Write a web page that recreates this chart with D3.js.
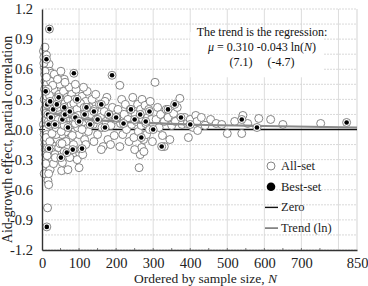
<!DOCTYPE html>
<html>
<head>
<meta charset="utf-8">
<script src="https://cdn.jsdelivr.net/npm/d3@7"></script>
<style>
  body { margin: 0; background: #fff; }
  svg { display: block; font-family: "Liberation Serif", "DejaVu Serif", serif; }
</style>
</head>
<body>
<div id="chart"></div>
<script>
// all-set estimates: sample size N and partial correlation
let allN = [4, 5, 6, 7, 8, 9, 10, 11, 12, 13, 14, 15, 4, 5, 6, 7, 8, 9, 10, 11, 12, 13, 14, 15, 16, 17, 18, 19, 20, 21,
    22, 23, 24, 25, 26, 27, 28, 29, 30, 16, 18, 15, 17, 20, 22, 24, 26, 28, 10, 12, 8, 6, 7, 9, 11, 13, 19, 21, 23, 25,
    32, 34, 36, 38, 40, 42, 44, 46, 48, 50, 52, 54, 56, 58, 60, 62, 64, 66, 68, 70, 72, 74, 76, 78, 31, 35, 45, 53, 55, 60,
    65, 70, 75, 33, 42, 51, 62, 80, 38, 47, 57, 67,
    82, 85, 88, 90, 92, 95, 98, 100, 102, 105, 108, 110, 112, 115, 118, 120, 122, 125, 128, 85, 95, 100, 105, 110, 118, 90,
    112, 84, 96, 126,
    132, 135, 138, 142, 146, 150, 155, 158, 162, 165, 168, 172, 175, 178, 182, 186, 190, 195, 198, 140, 160, 185, 145, 170,
    202, 205, 210, 210, 212, 215, 218, 222, 225, 228, 232, 235, 238, 242, 245, 248, 252, 255, 258, 260, 262, 264, 266, 268,
    269, 270, 272, 274, 276, 278, 280, 282, 285, 288, 290, 292, 295, 298, 265, 275, 250,
    305, 308, 312, 316, 320, 325, 330, 335, 340, 345, 350, 355, 360, 365, 372, 378, 385, 392, 400, 408, 415, 418, 420, 330, 395,
    430, 440, 455, 470, 485, 500, 520, 542, 539, 555, 585, 617, 752, 650,
    // extra density in the small-sample cloud
    5, 7, 9, 11, 13, 15, 17, 19, 21, 23, 25, 27, 29, 31, 33, 35, 37, 39, 41, 43, 45, 47, 49, 6, 10, 14, 18, 22, 26, 30,
    34, 38, 42, 46, 50, 54, 58, 62, 66, 70, 74, 78, 82, 86, 90, 94, 98, 104, 108, 114, 8, 12, 16, 20, 24, 28, 36, 44, 52, 60];
let allV = [0.78, 0.72, 0.62, 0.55, 0.48, 0.42, 0.35, 0.30, 0.25, 0.20, 0.15, 0.10, 0.05, 0.00, -0.05, -0.10, -0.15, -0.20, -0.25, -0.30,
    -0.12, 0.45, 0.38, 0.60, 0.52, 0.30, 0.22, 0.12, 0.05, -0.02, -0.08, 0.18, 0.28, 0.36, 0.42, 0.50, 0.08, -0.15, -0.20, -0.51,
    -0.55, -0.78, -0.36, -0.30, -0.40, -0.22, -0.10, -0.30, 0.68, 0.74, 0.82, 0.30, 0.20, 0.10, 0.00, -0.05, 0.65, 0.58, 0.48, 0.56,
    0.40, 0.30, 0.20, 0.10, 0.00, -0.10, 0.25, 0.35, 0.45, 0.15, 0.05, -0.05, 0.28, 0.38, 0.50, 0.18, 0.08, -0.02, 0.32, 0.22,
    0.12, 0.42, 0.02, -0.08, -0.34, -0.25, -0.18, -0.41, -0.33, -0.22, -0.12, -0.40, -0.28, 0.55, 0.50, 0.58, 0.47, 0.35, -0.05, 0.08,
    0.10, 0.20,
    0.20, 0.10, 0.30, 0.00, 0.40, 0.15, 0.25, -0.05, -0.24, 0.05, 0.33, 0.18, 0.08, -0.10, 0.28, 0.12, 0.38, -0.02, 0.22, -0.15,
    -0.30, -0.38, -0.20, -0.25, -0.15, 0.45, 0.42, 0.05, 0.02, 0.10,
    0.15, 0.30, 0.05, 0.20, 0.10, -0.05, 0.25, 0.12, 0.02, -0.17, 0.18, 0.08, 0.32, -0.10, 0.14, 0.04, 0.22, -0.06, 0.10, -0.12,
    -0.20, -0.15, 0.35, 0.28,
    0.12, 0.20, 0.44, -0.17, 0.06, 0.30, -0.05, 0.15, 0.25, 0.00, 0.10, -0.12, 0.20, 0.05, 0.32, -0.08, 0.15, 0.08, 0.25, -0.02,
    -0.38, 0.12, 0.20, 0.04, -0.18, 0.30, 0.10, -0.10, 0.16, 0.24, 0.06, -0.05, 0.12, 0.20, 0.00, 0.28, 0.10, -0.12, -0.25, -0.22,
    -0.20,
    0.47, 0.10, 0.22, 0.02, 0.15, -0.06, 0.08, 0.20, 0.12, -0.10, 0.04, 0.16, 0.08, 0.22, 0.31, 0.05, 0.12, 0.06, 0.10, 0.02,
    0.14, 0.08, -0.01, -0.17, -0.08,
    0.12, 0.04, 0.10, 0.06, 0.05, -0.04, 0.08, 0.14, -0.04, 0.06, 0.11, 0.10, 0.06, 0.05,
    0.66, 0.40, 0.16, -0.08, 0.33, -0.18, 0.08, 0.27, -0.12, 0.14, 0.24, -0.04, 0.44, 0.18, 0.06, 0.24, 0.14, 0.30, 0.04, 0.20,
    0.12, 0.26, -0.14, -0.44, -0.34, -0.26, -0.44, 0.04, 0.16, 0.30, 0.12, 0.02, 0.22, 0.06, 0.28, -0.14, 0.14, 0.26, 0.04, 0.30,
    0.16, 0.24, -0.06, 0.26, 0.06, 0.20, 0.14, 0.26, 0.00, 0.22, 0.58, 0.52, 0.40, 0.34, 0.20, 0.22, -0.28, 0.10, -0.02, 0.04];

// best-set estimates
let bestN = [20, 13, 12, 10, 14, 16, 18, 22, 24, 19, 30, 35, 40, 45, 51, 55, 60, 62, 67, 70, 75, 83, 86, 90, 95, 100, 108,
    115, 120, 130, 140, 150, 160, 170, 180, 189, 200, 220, 240, 250, 265, 280, 290, 323, 340, 358, 375, 400, 539, 580, 822, 268, 300];
let bestV = [1.00, -0.97, 0.70, 0.38, 0.25, 0.15, 0.05, 0.28, 0.12, -0.19, 0.20, 0.05, 0.25, 0.32, -0.28, 0.10, 0.22, 0.15, -0.23,
    0.02, 0.18, -0.20, 0.56, 0.12, 0.30, 0.08, -0.19, 0.15, 0.22, 0.05, 0.18, 0.10, 0.25, 0.02, 0.15, 0.54, 0.12, 0.06, 0.20,
    0.10, 0.15, 0.08, 0.18, -0.17, 0.20, 0.25, 0.12, 0.05, 0.10, 0.02, 0.07, -0.08, 0.00];

// trend line
let trendN = [3, 10, 20, 50, 100, 200, 400, 600, 850];
let trendV = [0.26, 0.21, 0.18, 0.14, 0.11, 0.08, 0.05, 0.035, 0.02];

let xTicks = [0, 100, 200, 300, 400, 500, 600, 700, 850];
let yTicks = [-1.2, -0.9, -0.6, -0.3, 0.0, 0.3, 0.6, 0.9, 1.2];
let legendItems = ["All-set", "Best-set", "Zero", "Trend (ln)"];
let noteLines = ["The trend is the regression:", "= 0.310 -0.043 ln(", "(7.1)     (-4.7)"];

let W = 368, H = 286;
let margin = { "top": 9, "bottom": 36, "right": 11, "left": 42 };

let svg = d3.select('#chart').append('svg')
    .attr('width', W)
    .attr('height', H);

let xScale = d3.scaleLinear().domain([0, 850]).range([margin.left, W - margin.right]);
let yScale = d3.scaleLinear().domain([-1.2, 1.2]).range([H - margin.bottom, margin.top]);

// grid
let grid = svg.append('g');
let hGrid = d3.range(-1.2, 1.2001, 0.15);
grid.selectAll('.hg').data(hGrid).enter().append('line')
    .attr('x1', xScale(0)).attr('x2', xScale(850))
    .attr('y1', d => yScale(d)).attr('y2', d => yScale(d))
    .attr('stroke', '#cfcfcf').attr('stroke-width', 0.8)
    .attr('stroke-dasharray', '2,1');
grid.selectAll('.vg').data(d3.range(100, 801, 100)).enter().append('line')
    .attr('x1', d => xScale(d)).attr('x2', d => xScale(d))
    .attr('y1', yScale(-1.2)).attr('y2', yScale(1.2))
    .attr('stroke', '#d4d4d4').attr('stroke-width', 0.8);
grid.append('line')
    .attr('x1', xScale(850)).attr('x2', xScale(850))
    .attr('y1', yScale(-1.2)).attr('y2', yScale(1.2))
    .attr('stroke', '#c8c8c8').attr('stroke-width', 0.8);

// annotation background (hides grid behind text)
svg.append('rect')
    .attr('x', xScale(400)).attr('y', yScale(0.97))
    .attr('width', xScale(760) - xScale(400)).attr('height', yScale(0.52) - yScale(0.97))
    .attr('fill', '#fff');

// zero line
svg.append('line')
    .attr('x1', xScale(0)).attr('x2', xScale(850))
    .attr('y1', yScale(0)).attr('y2', yScale(0))
    .attr('stroke', '#111').attr('stroke-width', 1.6);

// all-set points
svg.append('g').selectAll('circle')
    .data(allN.map((n, i) => [n, allV[i]]))
    .enter().append('circle')
    .attr('cx', d => xScale(d[0]))
    .attr('cy', d => yScale(d[1]))
    .attr('r', 4)
    .attr('fill', '#fff')
    .attr('stroke', '#777')
    .attr('stroke-width', 0.9);

// trend line
let line = d3.line()
    .x(d => xScale(d[0]))
    .y(d => yScale(d[1]))
    .curve(d3.curveMonotoneX);
svg.append('path')
    .attr('d', line(trendN.map((n, i) => [n, trendV[i]])))
    .attr('fill', 'none')
    .attr('stroke', '#8a8a8a')
    .attr('stroke-width', 2.2);

// best-set points
let best = svg.append('g').selectAll('g')
    .data(bestN.map((n, i) => [n, bestV[i]]))
    .enter().append('g')
    .attr('transform', d => 'translate(' + xScale(d[0]) + ',' + yScale(d[1]) + ')');
best.append('circle').attr('r', 4).attr('fill', '#fff').attr('stroke', '#777').attr('stroke-width', 0.9);
best.append('circle').attr('r', 2.3).attr('fill', '#000');

// axes
let xAxis = svg.append('g')
    .attr('transform', 'translate(0,' + yScale(-1.2) + ')')
    .call(d3.axisBottom(xScale).tickValues(xTicks).tickSize(0).tickPadding(8).tickFormat(d3.format('d')));
let yAxis = svg.append('g')
    .attr('transform', 'translate(' + xScale(0) + ',0)')
    .call(d3.axisLeft(yScale).tickValues(yTicks).tickSize(0).tickPadding(9).tickFormat(d3.format('.1f')));
[xAxis, yAxis].forEach(a => {
    a.select('.domain').attr('stroke', '#333').attr('stroke-width', 1.4);
    a.selectAll('text').attr('font-family', '"Liberation Serif", serif').attr('font-size', 14.5).attr('fill', '#222');
});
yAxis.selectAll('text').text(d => d3.format('.1f')(d).replace('−', '-'));

// minor ticks on x axis
svg.append('g').selectAll('line')
    .data(d3.range(50, 800, 50))
    .enter().append('line')
    .attr('x1', d => xScale(d)).attr('x2', d => xScale(d))
    .attr('y1', yScale(-1.2)).attr('y2', yScale(-1.2) - 2)
    .attr('stroke', '#555').attr('stroke-width', 0.8);
// small tick at zero on y axis
svg.append('line')
    .attr('x1', xScale(0) - 3).attr('x2', xScale(0) + 3)
    .attr('y1', yScale(0)).attr('y2', yScale(0))
    .attr('stroke', '#333').attr('stroke-width', 1);

// axis titles
svg.append('text')
    .attr('transform', 'translate(12,' + (yScale(0) + 10) + ') rotate(-90)')
    .attr('text-anchor', 'middle')
    .attr('font-size', 14)
    .attr('fill', '#222')
    .text('Aid-growth effect, partial correlation');
let xt = svg.append('text')
    .attr('x', (xScale(0) + xScale(850)) / 2 + 6)
    .attr('y', 283)
    .attr('text-anchor', 'middle')
    .attr('font-size', 13.5)
    .attr('fill', '#222');
xt.append('tspan').text('Ordered by sample size, ');
xt.append('tspan').attr('font-style', 'italic').text('N');

// annotation
let noteX = 262;
svg.append('text').attr('x', noteX).attr('y', 36).attr('text-anchor', 'middle')
    .attr('font-size', 12).attr('fill', '#111').text(noteLines[0]);
let eq = svg.append('text').attr('x', noteX).attr('y', 51).attr('text-anchor', 'middle')
    .attr('font-size', 12).attr('fill', '#111');
eq.append('tspan').attr('font-style', 'italic').text('\u03bc');
eq.append('tspan').text(' ' + noteLines[1]);
eq.append('tspan').attr('font-style', 'italic').text('N');
eq.append('tspan').text(')');
svg.append('text').attr('x', noteX).attr('y', 66).attr('text-anchor', 'middle')
    .attr('font-size', 12).attr('fill', '#111').attr('xml:space', 'preserve')
    .style('white-space', 'pre').text(noteLines[2]);

// legend
let legend = svg.append('g').attr('transform', 'translate(271,166)');
let lg = legend.selectAll('g').data(legendItems).enter().append('g')
    .attr('transform', (d, i) => 'translate(0,' + (i * 20.7) + ')');
lg.append('text').attr('x', 10).attr('y', 4).attr('font-size', 12.5).attr('fill', '#222').text(d => d);
lg.filter((d, i) => i === 0).append('circle').attr('r', 4).attr('fill', '#fff').attr('stroke', '#777').attr('stroke-width', 0.9);
lg.filter((d, i) => i === 1).append('circle').attr('r', 4.3).attr('fill', '#000');
lg.filter((d, i) => i === 2).append('line').attr('x1', -6).attr('x2', 7).attr('stroke', '#111').attr('stroke-width', 1.4);
lg.filter((d, i) => i === 3).append('line').attr('x1', -6).attr('x2', 7).attr('stroke', '#777').attr('stroke-width', 1.6);
</script>
</body>
</html>
